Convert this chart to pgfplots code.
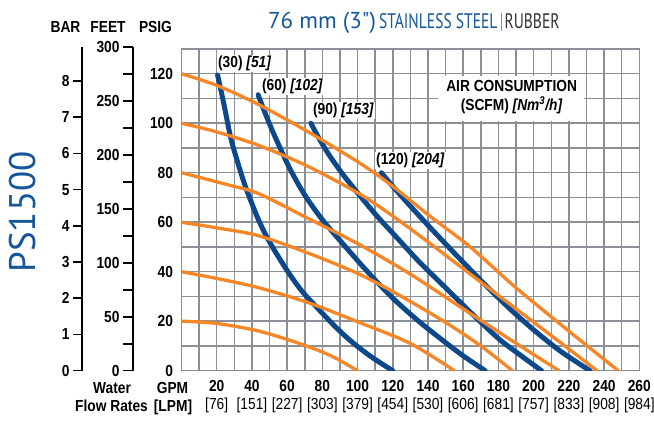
\documentclass[border=0pt]{standalone}
\usepackage{fontspec}
\setmainfont{Liberation Sans}[FakeStretch=0.86]
\newfontfamily\titlefont{PT Sans}
\newfontfamily\titlecond{PT Sans}[FakeStretch=0.74]
\usepackage{pgfplots}
\pgfplotsset{compat=1.18}

\definecolor{gridgray}{RGB}{138,144,150}
\definecolor{curveblue}{RGB}{12,72,138}
\definecolor{curveorange}{RGB}{246,134,38}
\definecolor{titleblue}{RGB}{22,86,152}
\definecolor{darktxt}{RGB}{51,51,51}

\newcommand\lpm[1]{{\fontsize{16}{18.4}\selectfont\mdseries #1}}
\newcommand\lblfont{\fontsize{16}{18.4}\selectfont\bfseries}

\pgfplotsset{
  /pgf/number format/assume math mode=true,
  airline/.style={curveblue, line width=5pt, smooth, line cap=round},
  pressline/.style={curveorange, line width=3.3pt, smooth},
}

\begin{document}
\begin{tikzpicture}[x=1pt,y=1pt]
\useasboundingbox (0,0) rectangle (654,423);

% BAR scale
\begin{axis}[
  at={(82pt,52.3pt)}, anchor=south west,
  scale only axis, width=1pt, height=323.4pt,
  xmin=0, xmax=1, ymin=0, ymax=8.93,
  axis x line=none, axis y line=left,
  y axis line style={-, black, line width=1.6pt},
  ytick={0,1,...,8}, tick align=outside,
  major tick length=9pt, tick style={black, line width=1.6pt},
  yticklabel style={font=\lblfont},
]
\end{axis}

% FEET scale
\begin{axis}[
  at={(133pt,52.3pt)}, anchor=south west,
  scale only axis, width=1pt, height=323.4pt,
  xmin=0, xmax=1, ymin=0, ymax=300,
  axis x line=none, axis y line=left,
  y axis line style={-, black, line width=1.6pt},
  ytick={0,50,...,300}, minor ytick={25,75,...,275}, tick align=outside,
  major tick length=10pt, minor tick length=10pt,
  tick style={black, line width=1.6pt},
  yticklabel style={font=\lblfont},
]
\end{axis}

% PSIG vs GPM
\begin{axis}[
  at={(181.5pt,52.3pt)}, anchor=south west,
  scale only axis, width=457.8pt, height=321.7pt,
  xmin=0, xmax=260, ymin=0, ymax=130,
  xtick={20,40,...,260}, minor xtick={10,30,...,250},
  ytick={0,20,...,120}, minor ytick={10,30,...,130},
  grid=both,
  major grid style={gridgray, line width=1.5pt},
  minor grid style={gridgray, line width=1.5pt},
  axis line style={gridgray, line width=1.5pt},
  major tick length=0pt, minor tick length=0pt,
  tick label style={font=\lblfont},
  xticklabel style={align=center, yshift=-5.7pt},
  yticklabel style={xshift=-5pt},
  xticklabels={{20\\\lpm{[76]}},{40\\\lpm{[151]}},{60\\\lpm{[227]}},{80\\\lpm{[303]}},{100\\\lpm{[379]}},{120\\\lpm{[454]}},{140\\\lpm{[530]}},{160\\\lpm{[606]}},{180\\\lpm{[681]}},{200\\\lpm{[757]}},{220\\\lpm{[833]}},{240\\\lpm{[908]}},{260\\\lpm{[984]}}},
]
% air consumption curves (SCFM)
\addplot[airline] coordinates {(20.5,119.5)(24,108)(28,94)(32,84)(36,75)(40,67.5)(44,60.5)(50,52)(59.5,41)(68,32.5)(77,25.5)(87,18)(97,11.5)(108,5.5)(120,0)};
\addplot[airline] coordinates {(43.5,111.5)(47,105)(51,98)(56,90)(62,81)(70,71)(80,61)(92,51)(105,40.5)(119,30)(133,21)(147,13)(160,6)(172.5,0)};
\addplot[airline] coordinates {(73.5,100)(78,94)(84,87)(92,79)(101,71)(111,62.5)(122,54)(135,44)(150,33.5)(165,23)(180,13)(192,6.5)(204.5,0)};
\addplot[airline] coordinates {(113.5,80)(120,74.5)(130,66.5)(141,58)(155,47.5)(170,36.5)(185,26)(200,16.5)(215,8)(232,0)};
% inlet air pressure curves (PSIG)
\addplot[pressline] coordinates {(0,120)(20,115.3)(44,107.5)(72,96.5)(101,84)(120,74.5)(141,62.5)(164,50)(190,33.5)(220,16)(248,0)};
\addplot[pressline] coordinates {(0,100)(20,96.5)(44,91)(72,82.5)(101,71.5)(120,62.5)(141,51.5)(165,38.5)(190,25)(215,11.5)(236,0)};
\addplot[pressline] coordinates {(0,80)(27,75)(44,71.5)(72,61.5)(101,51)(130,39)(160,25)(188,12)(214.5,0)};
\addplot[pressline] coordinates {(0,60)(22,57.5)(44,54.5)(72,47.5)(101,39)(125,30)(150,19.5)(170,10)(188,0)};
\addplot[pressline] coordinates {(0,40)(22,37)(44,33.5)(72,27.5)(101,19.5)(130,11)(155,0)};
\addplot[pressline] coordinates {(0,20)(20,19.1)(44,16)(67,11)(85,6)(100,0)};

\fill[white] (axis cs:145.7,100.8) rectangle (axis cs:228.8,119.2);
\node[font=\fontsize{16}{19}\selectfont\bfseries, align=center] at (axis cs:187.5,110.4)
  {AIR CONSUMPTION\\(SCFM) \textit{[Nm\textsuperscript{3}/h]}};

\node[fill=white, inner sep=1pt, font=\lblfont] at (axis cs:35.9,124.3) {(30) \textit{[51]}};
\node[fill=white, inner sep=1pt, font=\lblfont] at (axis cs:63,115) {(60) \textit{[102]}};
\node[fill=white, inner sep=1pt, font=\lblfont] at (axis cs:92,105) {(90) \textit{[153]}};
\node[fill=white, inner sep=1pt, font=\lblfont] at (axis cs:130,85.1) {(120) \textit{[204]}};
\end{axis}

% headers and axis names
\node[anchor=base, font=\lblfont] at (65.5,390.7) {BAR};
\node[anchor=base, font=\lblfont] at (108,390.7) {FEET};
\node[anchor=base, font=\lblfont] at (155.5,390.7) {PSIG};
\node[anchor=base, font=\lblfont] at (112,29.7) {Water};
\node[anchor=base, font=\lblfont] at (111.5,11.3) {Flow Rates};
\node[anchor=base, font=\lblfont] at (172.5,29.7) {GPM};
\node[anchor=base, font=\lblfont] at (173,11.3) {[LPM]};

% title
\node[anchor=base west, inner sep=0pt] at (268,394)
  {\color{titleblue}\titlefont\fontsize{23}{25}\selectfont 76 mm (3")\hspace{3pt}\titlecond\fontsize{21}{23}\selectfont STAINLESS STEEL\hspace{3pt}{\color{gridgray}\rule[-2pt]{1pt}{18pt}}\hspace{3pt}\color{darktxt}RUBBER};

\node[rotate=90, anchor=base, text=titleblue, font=\titlefont\fontsize{37}{40}\selectfont] at (35,211) {PS1500};
\end{tikzpicture}
\end{document}
